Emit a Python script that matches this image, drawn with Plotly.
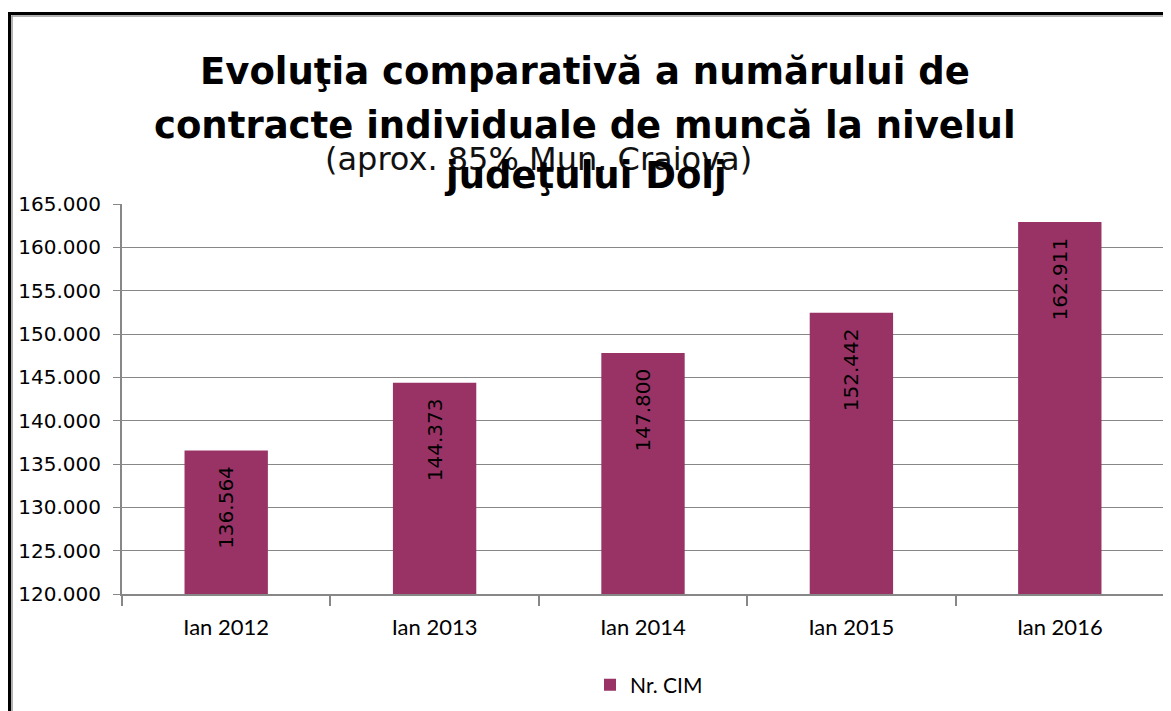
import plotly.graph_objects as go

categories = ["Ian 2012", "Ian 2013", "Ian 2014", "Ian 2015", "Ian 2016"]
nr_cim = [136564, 144373, 147800, 152442, 162911]
series_name = "Nr. CIM"
title_lines = [
    "Evoluţia comparativă a numărului de",
    "contracte individuale de muncă la nivelul",
    "judeţului Dolj",
]
subtitle = "(aprox. 85% Mun. Craiova)"

# page body has an 8px margin; figure starts at (8, 8) in the window
OFF = 8
W, H = 1171 - OFF, 711 - OFF
L, R, T, B = 122 - OFF, 7, 204 - OFF, 116
PW = W - L - R
PH = H - T - B


def px(x):
    """window x pixel -> paper fraction"""
    return (x - OFF - L) / PW


def py(y):
    """window y pixel -> paper fraction"""
    return (H - B - (y - OFF)) / PH


BAR = "#993366"
GRID = "#878787"

fig = go.Figure()
fig.add_trace(go.Bar(
    x=categories,
    y=nr_cim,
    name=series_name,
    marker=dict(color=BAR, line=dict(width=0)),
    texttemplate="%{y:,d}\u00a0\u00a0",
    textposition="inside",
    insidetextanchor="end",
    textangle=-90,
    textfont=dict(family="DejaVu Sans", size=20, color="black"),
    constraintext="none",
    hoverinfo="skip",
    showlegend=True,
))

annotations = []
# subtitle first (title drawn over it, as in the reference)
annotations.append(dict(
    text=subtitle, x=px(538), y=py(159), xref="paper", yref="paper",
    xanchor="center", yanchor="middle", showarrow=False,
    font=dict(family="DejaVu Sans", size=32, color="#111111"),
))
for txt, yc in zip(title_lines, [71, 125, 175]):
    annotations.append(dict(
        text="<b>" + txt + "</b>", x=px(585), y=py(yc), xref="paper", yref="paper",
        xanchor="center", yanchor="middle", showarrow=False,
        font=dict(family="DejaVu Sans", size=37, color="black"),
    ))

shapes = [
    # outer black frame (top and left)
    dict(type="line", xref="paper", yref="paper", x0=px(8), x1=px(1200), y0=py(13), y1=py(13),
         line=dict(color="black", width=3)),
    dict(type="line", xref="paper", yref="paper", x0=px(9.5), x1=px(9.5), y0=py(11.5), y1=py(730),
         line=dict(color="black", width=3)),
    # inner gray frame
    dict(type="line", xref="paper", yref="paper", x0=px(11.5), x1=px(1200), y0=py(15.5), y1=py(15.5),
         line=dict(color="#999999", width=1.5)),
    dict(type="line", xref="paper", yref="paper", x0=px(12), x1=px(12), y0=py(15), y1=py(730),
         line=dict(color="#999999", width=1.5)),
]

fig.update_layout(
    width=W, height=H,
    margin=dict(l=L, r=R, t=T, b=B, pad=0),
    paper_bgcolor="white", plot_bgcolor="white",
    separators=",.",
    bargap=0.6,
    annotations=annotations,
    shapes=shapes,
    showlegend=True,
    legend=dict(
        orientation="h", x=px(590), y=py(685), xanchor="left", yanchor="middle",
        font=dict(family="Lato", size=21, color="black"),
        bgcolor="rgba(0,0,0,0)",
    ),
    font=dict(family="DejaVu Sans", color="black"),
)

fig.update_yaxes(
    range=[120000, 165000], dtick=5000, tick0=120000,
    tickformat=",d",
    showgrid=True, gridcolor=GRID, gridwidth=1.3,
    showline=True, linecolor=GRID, linewidth=2,
    ticks="outside", ticklen=7, tickcolor=GRID, tickwidth=1.3,
    ticklabelstandoff=8,
    tickfont=dict(family="DejaVu Sans", size=20, color="black"),
    zeroline=False, fixedrange=True,
)
fig.update_xaxes(
    showline=True, linecolor=GRID, linewidth=2,
    ticks="outside", ticklen=10, tickcolor=GRID, tickwidth=2,
    tickson="boundaries",
    showgrid=False,
    tickfont=dict(family="Lato", size=22, color="black"),
    ticklabelstandoff=13,
    fixedrange=True,
)

fig.write_html("out.html")
